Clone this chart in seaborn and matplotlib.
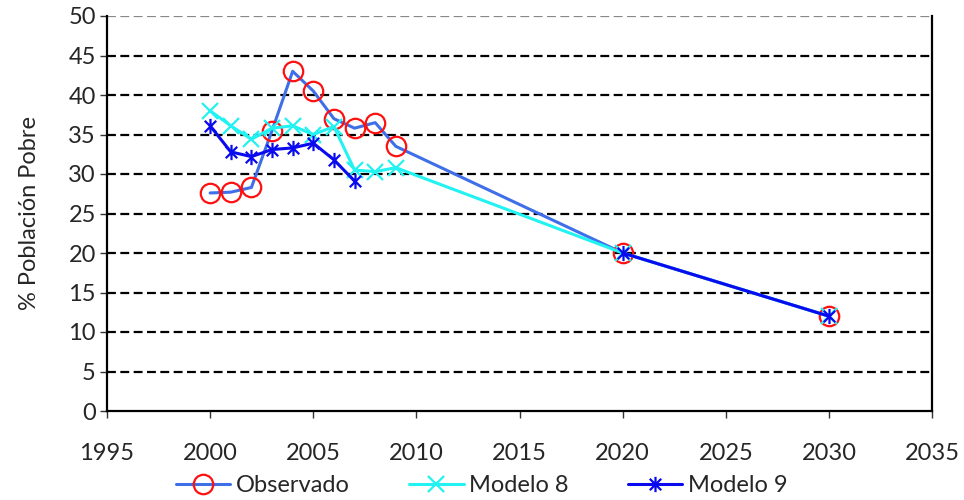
import numpy as np
import pandas as pd
import matplotlib
matplotlib.use("Agg")
import matplotlib.pyplot as plt
from matplotlib.path import Path
from matplotlib.lines import Line2D
import seaborn as sns

# data
years_obs = [2000, 2001, 2002, 2003, 2004, 2005, 2006, 2007, 2008, 2009, 2020, 2030]
observado = [27.6, 27.7, 28.3, 35.5, 43.0, 40.5, 37.0, 35.8, 36.5, 33.5, 20.0, 12.0]

years_m8 = [2000, 2001, 2002, 2003, 2004, 2005, 2006, 2007, 2008, 2009, 2020, 2030]
modelo8 = [38.0, 36.1, 34.4, 35.8, 36.1, 35.0, 36.0, 30.5, 30.3, 30.8, 20.0, 12.0]

# Modelo 9 has no values for 2008-2009, so the line breaks there
years_m9_a = [2000, 2001, 2002, 2003, 2004, 2005, 2006, 2007]
modelo9_a = [36.1, 32.8, 32.2, 33.1, 33.3, 33.9, 31.8, 29.1]
years_m9_b = [2020, 2030]
modelo9_b = [20.0, 12.0]

sns.set_style("white")
plt.rcParams["font.family"] = ["Lato", "DejaVu Sans"]
FS = 17

# Excel-style star marker: vertical bar plus an X
star = Path([(0, -1), (0, 1), (-0.75, -0.75), (0.75, 0.75), (-0.75, 0.75), (0.75, -0.75)],
            [Path.MOVETO, Path.LINETO, Path.MOVETO, Path.LINETO, Path.MOVETO, Path.LINETO])

fig = plt.figure(figsize=(9.64, 5.0), dpi=100)
ax = fig.add_axes([0.111, 0.178, 0.856, 0.79])

# horizontal dashed gridlines
for yv in range(5, 51, 5):
    col = "#888888" if yv == 50 else "black"
    ax.axhline(yv, color=col, lw=1.6, ls=(0, (4, 2)), zorder=0)

c_obs = "#3F6FE8"
c_m8 = "#22F2F2"
c_m9 = "#0A0AEE"

df_obs = pd.DataFrame({"year": years_obs, "val": observado})
sns.lineplot(data=df_obs, x="year", y="val", ax=ax, color=c_obs, lw=2.2,
             marker="o", markersize=14, markerfacecolor="none",
             markeredgecolor="#FF1010", markeredgewidth=1.6, zorder=3)

df_m8 = pd.DataFrame({"year": years_m8, "val": modelo8})
sns.lineplot(data=df_m8, x="year", y="val", ax=ax, color=c_m8, lw=2.2,
             marker="x", markersize=11, markeredgewidth=1.6,
             markeredgecolor=c_m8, zorder=4)

for yy, vv in [(years_m9_a, modelo9_a), (years_m9_b, modelo9_b)]:
    d = pd.DataFrame({"year": yy, "val": vv})
    sns.lineplot(data=d, x="year", y="val", ax=ax, color=c_m9, lw=2.2,
                 marker=star, markersize=11, markeredgewidth=1.6,
                 markeredgecolor=c_m9, zorder=5)

ax.set_xlim(1995, 2035)
ax.set_ylim(0, 50)
ax.set_xticks(range(1995, 2036, 5))
ax.set_yticks(range(0, 51, 5))
ax.set_xlabel("")
ax.set_ylabel("% Población Pobre", fontsize=FS, labelpad=20)

ax.spines["top"].set_visible(False)
for s in ["left", "bottom", "right"]:
    ax.spines[s].set_color("black")
    ax.spines[s].set_linewidth(1.6)
ax.tick_params(axis="both", direction="out", length=5, width=1.0, color="#333333",
               labelsize=FS, pad=3, left=True, bottom=True)
ax.tick_params(axis="x", pad=18)

handles = [
    Line2D([], [], color=c_obs, lw=2.2, marker="o", markersize=14,
           markerfacecolor="none", markeredgecolor="#FF1010", markeredgewidth=1.6),
    Line2D([], [], color=c_m8, lw=2.2, marker="x", markersize=11, markeredgewidth=1.6),
    Line2D([], [], color=c_m9, lw=2.2, marker=star, markersize=11, markeredgewidth=1.6),
]
fig.legend(handles, ["Observado", "Modelo 8", "Modelo 9"], loc="lower center",
           bbox_to_anchor=(0.5, -0.035), ncol=3, frameon=False, fontsize=FS,
           handlelength=2.3, columnspacing=2.5, handletextpad=0.25)

fig.savefig("out.png", dpi=100)
